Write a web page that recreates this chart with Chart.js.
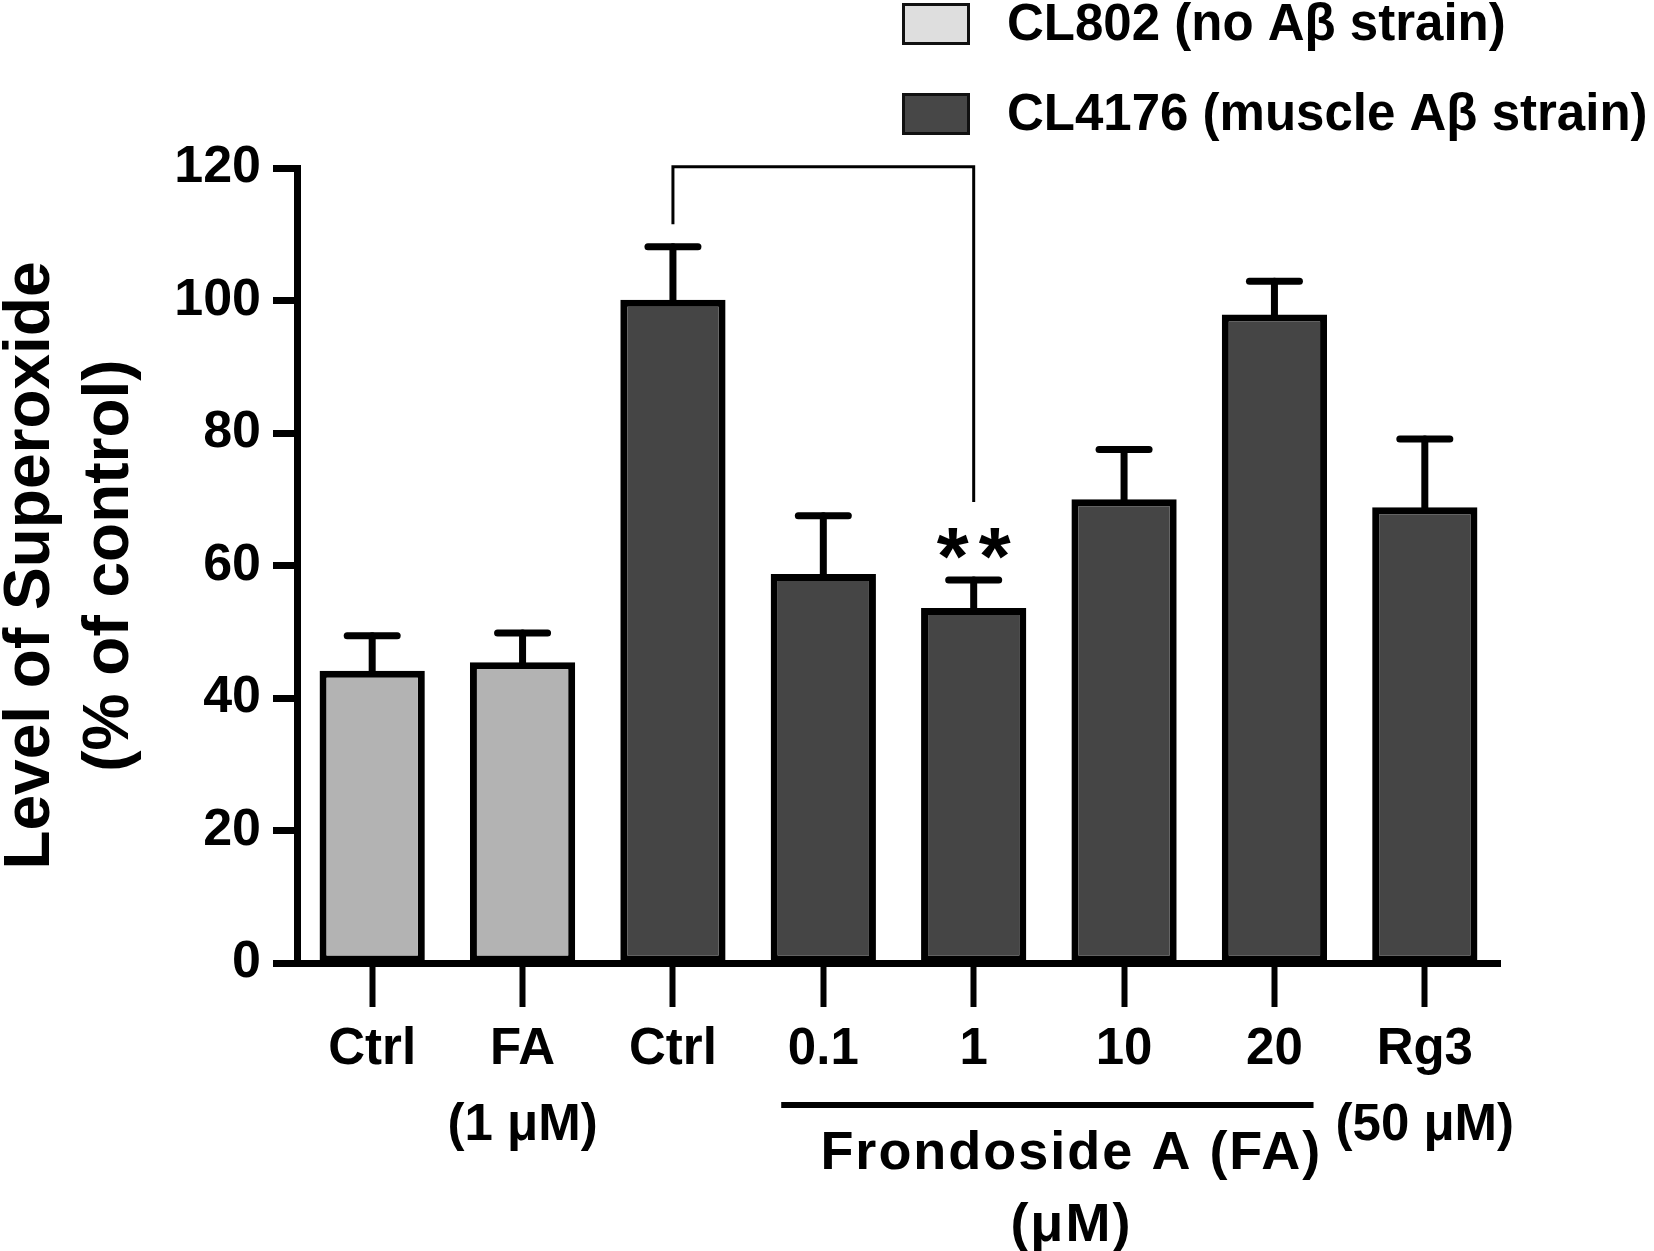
<!DOCTYPE html>
<html>
<head>
<meta charset="utf-8">
<script src="https://cdn.jsdelivr.net/npm/chart.js@4.4.1/dist/chart.umd.min.js"></script>
<style>
  html, body { margin: 0; padding: 0; background: #fff; }
  #wrap { width: 1654px; height: 1251px; position: relative; }
</style>
</head>
<body>
<div id="wrap"><canvas id="chart"></canvas></div>
<script>
// data
const categories = [['Ctrl'], ['FA', '(1 \u03BCM)'], ['Ctrl'], ['0.1'], ['1'], ['10'], ['20'], ['Rg3', '(50 \u03BCM)']];
const seriesNames = ['CL802 (no A\u03B2 strain)', 'CL4176 (muscle A\u03B2 strain)'];
const cl802Means = [44.1, 45.4, null, null, null, null, null, null];
const cl802Upper = [49.4, 49.8, null, null, null, null, null, null];
const cl4176Means = [null, null, 100.1, 58.7, 53.6, 70.0, 97.9, 68.8];
const cl4176Upper = [null, null, 108.1, 67.5, 57.8, 77.5, 102.9, 79.1];
const yTicks = [0, 20, 40, 60, 80, 100, 120];

const FONT = "'Liberation Sans', Arial, sans-serif";
const barFill = ['#b3b3b3', '#454545'];
const legendFill = ['#dedede', '#474747'];

// error bars (upper only), drawn from bar top to mean+sd
const errorBars = {
  id: 'errorBars',
  afterDatasetsDraw(chart) {
    const ctx = chart.ctx;
    const y = chart.scales.y;
    const uppers = [cl802Upper, cl4176Upper];
    ctx.save();
    ctx.strokeStyle = '#000';
    ctx.lineWidth = 7;
    ctx.lineCap = 'round';
    chart.data.datasets.forEach((ds, di) => {
      chart.getDatasetMeta(di).data.forEach((bar, i) => {
        if (ds.data[i] == null) return;
        const top = y.getPixelForValue(uppers[di][i]);
        ctx.beginPath();
        ctx.moveTo(bar.x, bar.y);
        ctx.lineTo(bar.x, top);
        ctx.stroke();
        ctx.beginPath();
        ctx.moveTo(bar.x - 25, top);
        ctx.lineTo(bar.x + 25, top);
        ctx.stroke();
      });
    });
    ctx.restore();
  }
};

// bracket Ctrl vs FA 1 uM, stars, the Frondoside group label and the legend
const annotations = {
  id: 'annotations',
  afterDraw(chart) {
    const ctx = chart.ctx;
    const x = chart.scales.x;
    const y = chart.scales.y;
    const step = x.getPixelForValue(1) - x.getPixelForValue(0);

    ctx.save();
    ctx.strokeStyle = '#000';
    ctx.lineWidth = 3;
    const xl = x.getPixelForValue(2), xr = x.getPixelForValue(4);
    ctx.beginPath();
    ctx.moveTo(xl, y.getPixelForValue(111.5));
    ctx.lineTo(xl, y.getPixelForValue(120.2));
    ctx.lineTo(xr, y.getPixelForValue(120.2));
    ctx.lineTo(xr, y.getPixelForValue(69.6));
    ctx.stroke();

    ctx.fillStyle = '#000';
    ctx.font = 'bold 82px ' + FONT;
    ctx.textAlign = 'center';
    ctx.textBaseline = 'middle';
    ctx.letterSpacing = '10px';
    ctx.fillText('**', xr + 5, y.getPixelForValue(cl4176Upper[4]) - 19);
    ctx.letterSpacing = '0px';

    // group line under 0.1 .. 20
    const x0 = x.getPixelForValue(3) - 0.28 * step;
    const x1 = x.getPixelForValue(6) + 0.26 * step;
    ctx.lineWidth = 6;
    ctx.beginPath();
    ctx.moveTo(x0, 1105);
    ctx.lineTo(x1, 1105);
    ctx.stroke();
    const xc = (x0 + x1) / 2 + 24;
    ctx.font = 'bold 54px ' + FONT;
    ctx.letterSpacing = '2px';
    ctx.fillText('Frondoside A (FA)', xc, 1154);
    ctx.fillText('(\u03BCM)', xc, 1226);
    ctx.letterSpacing = '0px';

    // legend
    ctx.textAlign = 'left';
    ctx.font = 'bold 51px ' + FONT;
    seriesNames.forEach((name, i) => {
      const top = 3 + i * 90;
      ctx.fillStyle = legendFill[i];
      ctx.fillRect(902, top, 68, 42);
      ctx.lineWidth = 3;
      ctx.strokeStyle = '#111';
      ctx.strokeRect(903.5, top + 1.5, 65, 39);
      ctx.fillStyle = '#000';
      ctx.fillText(name, 1007, top + 23);
    });
    ctx.restore();
  }
};

new Chart(document.getElementById('chart'), {
  type: 'bar',
  data: {
    labels: categories,
    datasets: [
      { label: seriesNames[0], data: cl802Means, backgroundColor: barFill[0] },
      { label: seriesNames[1], data: cl4176Means, backgroundColor: barFill[1] }
    ]
  },
  options: {
    responsive: true,
    maintainAspectRatio: false,
    animation: false,
    layout: { padding: { top: 168, right: 154, left: 0, bottom: 0 } },
    datasets: {
      bar: {
        grouped: false,
        barPercentage: 0.7,
        categoryPercentage: 1,
        borderColor: '#000',
        borderWidth: 7,
        borderSkipped: false
      }
    },
    plugins: {
      legend: { display: false },
      tooltip: { enabled: false }
    },
    scales: {
      x: {
        offset: true,
        border: { color: '#000', width: 7 },
        grid: { offset: false, drawOnChartArea: false, tickLength: 44, tickWidth: 6, tickColor: '#000' },
        ticks: {
          color: '#000',
          padding: 5,
          maxRotation: 0,
          autoSkip: false,
          font: { family: FONT, size: 51, weight: 'bold', lineHeight: 1.49 }
        },
        afterFit(scale) { scale.height = 1251 - 963; }
      },
      y: {
        min: 0,
        max: 120,
        afterBuildTicks(scale) { scale.ticks = yTicks.map(v => ({ value: v })); },
        border: { color: '#000', width: 7 },
        grid: { drawOnChartArea: false, tickLength: 24, tickWidth: 7, tickColor: '#000' },
        ticks: {
          color: '#000',
          padding: 12,
          font: { family: FONT, size: 52, weight: 'bold' }
        },
        title: {
          display: true,
          text: ['Level of Superoxide', '(% of control)'],
          color: '#000',
          padding: { top: -8 },
          font: { family: FONT, size: 64, weight: 'bold', lineHeight: 1.234 }
        },
        afterFit(scale) { scale.width = 297; }
      }
    }
  },
  plugins: [errorBars, annotations]
});
</script>
</body>
</html>
